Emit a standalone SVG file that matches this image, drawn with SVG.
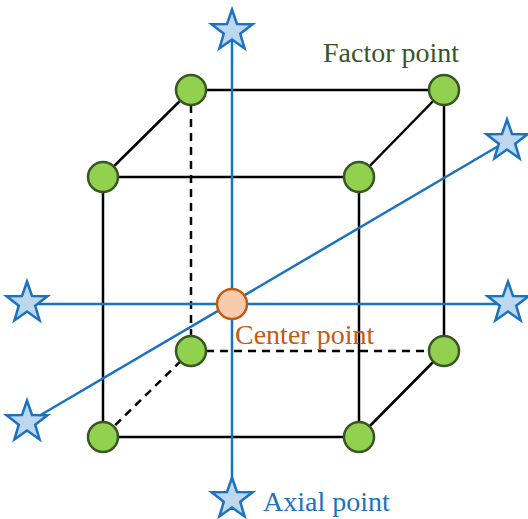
<svg xmlns="http://www.w3.org/2000/svg" width="528" height="519" viewBox="0 0 528 519">
<style>
.edge{stroke:#000;stroke-width:2.5;fill:none}
.dash{stroke-dasharray:8 6}
.axis{stroke:#1a72c0;stroke-width:2.5;fill:none}
.factor{fill:#92d050;stroke:#375623;stroke-width:2.5}
.center{fill:#f8cbad;stroke:#c55a11;stroke-width:2.5}
.star{fill:#bdd7ee;stroke:#1a72c0;stroke-width:2.5;stroke-linejoin:miter}
.lbl{font-family:"Liberation Serif","Times New Roman",serif;font-size:28px}
</style>
<defs>
<polygon id="star" points="0,-21.5 5,-7 20.5,-6.7 8.2,2.7 12.6,17.4 0,8.6 -12.6,17.4 -8.2,2.7 -20.5,-6.7 -5,-7"/>
</defs>
<g id="connectors">
<line class="edge" x1="191" y1="90" x2="444" y2="90"/>
<line class="edge" x1="103" y1="177" x2="359" y2="177"/>
<line class="edge" x1="191" y1="90" x2="103" y2="177"/>
<line class="edge" x1="444" y1="90" x2="359" y2="177"/>
<line class="edge" x1="103" y1="177" x2="103" y2="437"/>
<line class="edge" x1="359" y1="177" x2="359" y2="437"/>
<line class="edge" x1="444" y1="90" x2="444" y2="351"/>
<line class="edge dash" x1="191" y1="105" x2="191" y2="351"/>
<line class="edge" x1="103" y1="437" x2="359" y2="437"/>
<line class="edge dash" x1="206" y1="351" x2="444" y2="351"/>
<line class="edge dash" x1="191" y1="351" x2="103" y2="437"/>
<line class="edge" x1="444" y1="351" x2="359" y2="437"/>
<line class="axis" x1="232" y1="40" x2="232" y2="490"/>
<line class="axis" x1="27" y1="304" x2="508" y2="304"/>
<line class="axis" x1="27" y1="423" x2="507" y2="141"/>
</g>
<g id="factor-points">
<circle class="factor" cx="191" cy="90" r="15"/>
<circle class="factor" cx="444" cy="90" r="15"/>
<circle class="factor" cx="103" cy="177" r="15"/>
<circle class="factor" cx="359" cy="177" r="15"/>
<circle class="factor" cx="191" cy="351" r="15"/>
<circle class="factor" cx="444" cy="351" r="15"/>
<circle class="factor" cx="103" cy="437" r="15"/>
<circle class="factor" cx="359" cy="437" r="15"/>
</g>
<g id="center-point">
<circle class="center" cx="232" cy="304" r="15"/>
</g>
<g id="axial-points">
<use href="#star" class="star" x="232" y="31"/>
<use href="#star" class="star" x="232" y="499"/>
<use href="#star" class="star" x="27" y="303"/>
<use href="#star" class="star" x="508" y="303"/>
<use href="#star" class="star" x="507" y="141"/>
<use href="#star" class="star" x="27" y="422"/>
</g>
<g id="labels">
<text class="lbl" x="323" y="62" fill="#375623">Factor point</text>
<text class="lbl" x="235" y="344" fill="#c55a11">Center point</text>
<text class="lbl" x="263" y="511" fill="#1a72c0">Axial point</text>
</g>
</svg>
